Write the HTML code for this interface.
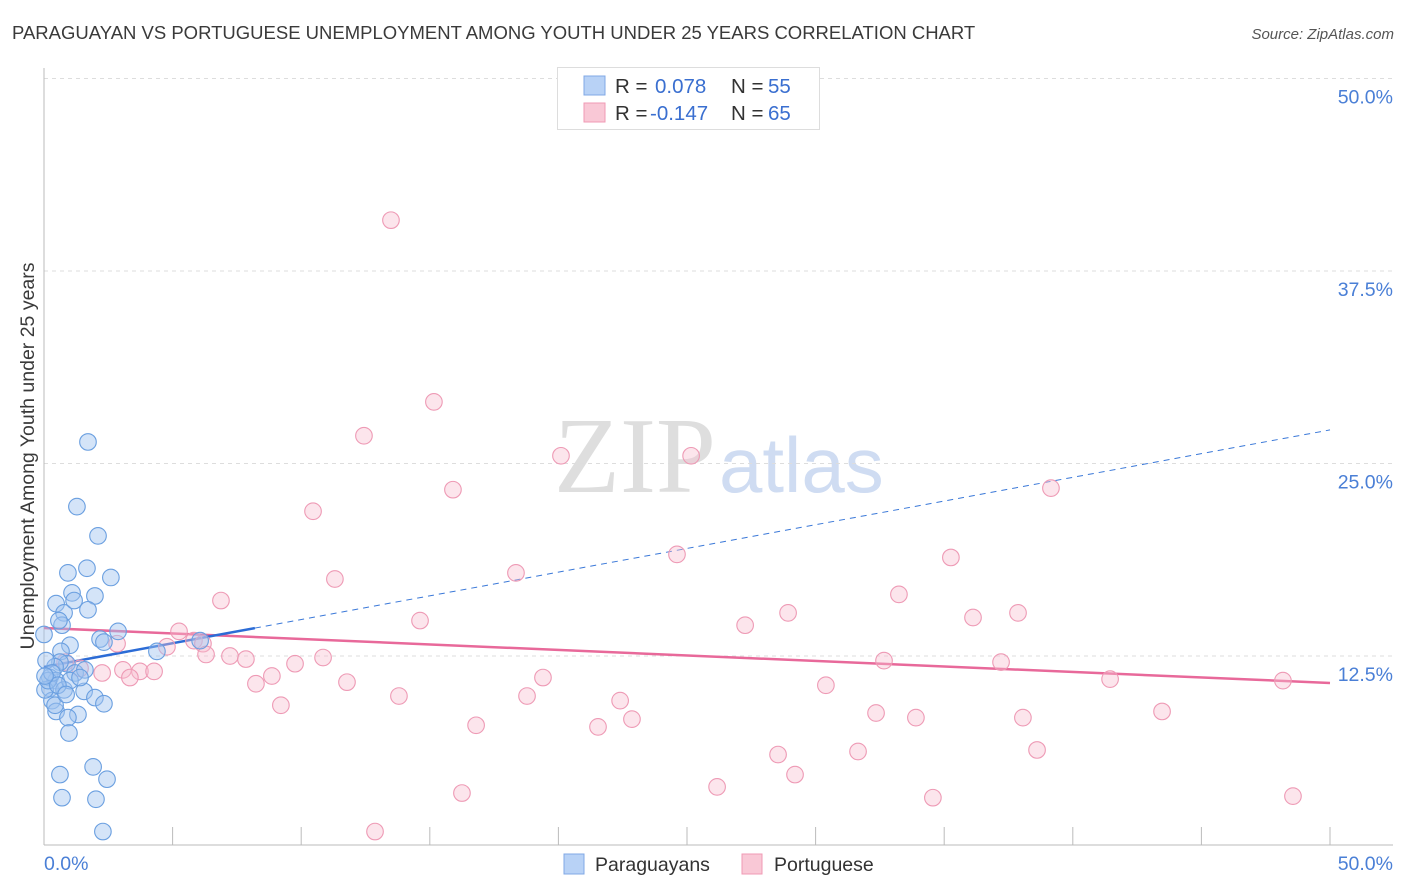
<!DOCTYPE html>
<html><head><meta charset="utf-8"><style>
body{margin:0;background:#fff;width:1406px;height:892px;overflow:hidden;font-family:"Liberation Sans",sans-serif}
svg{display:block}
</style></head><body>
<svg id="chart" width="1406" height="892" xmlns="http://www.w3.org/2000/svg">
<text x="12" y="39" font-size="18.5" fill="#3a3a3a">PARAGUAYAN VS PORTUGUESE UNEMPLOYMENT AMONG YOUTH UNDER 25 YEARS CORRELATION CHART</text>
<text x="1394" y="39" font-size="15" fill="#555" font-style="italic" text-anchor="end">Source: ZipAtlas.com</text>
<text x="716" y="492" font-size="108" font-family="Liberation Serif,serif" fill="#dedede" text-anchor="end">ZIP</text>
<text x="719" y="492" font-size="78" fill="#cfdcf2">atlas</text>
<g id="grid"></g>
<g id="axes"></g>
<g id="lines"></g>
<g id="pts"></g>
<text transform="translate(34,456) rotate(-90)" font-size="19.5" fill="#3a3a3a" text-anchor="middle">Unemployment Among Youth under 25 years</text>
<g>
<rect x="557.5" y="67.5" width="262" height="62" fill="#fff" stroke="#ddd"/>
<rect x="584" y="76" width="21" height="19" fill="#b8d2f6" stroke="#80a8e6"/>
<rect x="584" y="103" width="21" height="19" fill="#f9c8d6" stroke="#f09ab4"/>
<text x="615" y="93" font-size="20.5" fill="#333">R = </text><text x="655" y="93" font-size="20.5" fill="#3a6fd0">0.078</text>
<text x="731" y="93" font-size="20.5" fill="#333">N = </text><text x="768" y="93" font-size="20.5" fill="#3a6fd0">55</text>
<text x="615" y="120" font-size="20.5" fill="#333">R = </text><text x="650" y="120" font-size="20.5" fill="#3a6fd0">-0.147</text>
<text x="731" y="120" font-size="20.5" fill="#333">N = </text><text x="768" y="120" font-size="20.5" fill="#3a6fd0">65</text>
</g>
<g>
<rect x="564" y="854" width="20" height="20" fill="#b8d2f6" stroke="#80a8e6"/>
<text x="595" y="871" font-size="19.5" fill="#333">Paraguayans</text>
<rect x="742" y="854" width="20" height="20" fill="#f9c8d6" stroke="#f09ab4"/>
<text x="774" y="871" font-size="19.5" fill="#333">Portuguese</text>
</g>
</svg>
<script>
const yTicks=[12.5,25.0,37.5,50.0];
const yTickLabels=["12.5%","25.0%","37.5%","50.0%"];
const xTicks=[0,5,10,15,20,25,30,35,40,45,50];
const blueX=[1.71,1.28,2.10,0.93,1.67,2.60,0.47,1.09,1.98,0.78,1.71,1.17,0.70,0.58,2.88,2.18,2.33,1.01,0,0.66,4.39,6.07,0.89,0.62,0.43,0.08,0.23,0.47,1.21,1.59,0.23,0.78,1.01,0.31,1.56,1.98,2.33,0.47,1.32,0.93,0.43,0.04,0.97,0.62,0.70,1.91,2.45,2.02,2.29,0.16,0.31,0.54,0.86,1.40,0.04];
const blueY=[26.4,22.2,20.3,17.9,18.2,17.6,15.9,16.6,16.4,15.3,15.5,16.1,14.5,14.8,14.1,13.6,13.4,13.2,13.9,12.8,12.8,13.5,12.0,12.1,11.8,12.2,11.1,10.9,11.4,11.6,10.4,10.3,10.9,9.6,10.2,9.8,9.4,8.9,8.7,8.5,9.3,10.3,7.5,4.8,3.3,5.3,4.5,3.2,1.1,10.9,11.4,10.6,10.0,11.1,11.2];
const pinkX=[13.49,15.16,12.44,20.10,25.16,15.90,39.15,10.46,24.61,35.26,18.35,11.31,6.88,33.24,28.93,37.87,14.62,36.12,27.26,5.25,2.84,5.83,4.78,6.18,6.30,7.23,7.85,10.85,9.76,32.66,37.21,3.07,3.73,4.28,3.34,2.26,8.86,11.78,19.40,8.24,30.40,41.45,48.17,13.80,18.78,22.40,9.21,32.35,43.47,22.86,33.90,38.06,16.80,21.54,38.61,31.65,28.54,29.20,26.17,16.25,34.56,48.56,12.87,0.82,1.40];
const pinkY=[40.8,29.0,26.8,25.5,25.5,23.3,23.4,21.9,19.1,18.9,17.9,17.5,16.1,16.5,15.3,15.3,14.8,15.0,14.5,14.1,13.3,13.5,13.1,13.3,12.6,12.5,12.3,12.4,12.0,12.2,12.1,11.6,11.5,11.5,11.1,11.4,11.2,10.8,11.1,10.7,10.6,11.0,10.9,9.9,9.9,9.6,9.3,8.8,8.9,8.4,8.5,8.5,8.0,7.9,6.4,6.3,6.1,4.8,4.0,3.6,3.3,3.4,1.1,12.1,11.7];
const blueTrend=[11.79,27.18];
const blueSolidEnd=8.2;
const pinkTrend=[14.32,10.75];
const NS="http://www.w3.org/2000/svg";
const sx=v=>44+v*25.72, sy=v=>848.5-v*15.4;
function mk(tag,attrs,parent){const e=document.createElementNS(NS,tag);for(const k in attrs)e.setAttribute(k,attrs[k]);document.getElementById(parent).appendChild(e);return e;}
yTicks.forEach((t,i)=>{
 const g=mk('line',{x1:44,x2:1393,y1:sy(t),y2:sy(t),stroke:'#ddd','stroke-dasharray':'4,4'},'grid');
 
 
 const l=mk('text',{x:1393,y:sy(t)+25,'font-size':19.5,fill:'#4a7fd6','text-anchor':'end'},'grid');
 l.textContent=yTickLabels[i];
 
 
});
const ya=mk('line',{x1:44,x2:44,y1:68,y2:845,stroke:'#bbb'},'axes');


const xa=mk('line',{x1:44,x2:1393,y1:845,y2:845,stroke:'#bbb'},'axes');


xTicks.forEach(t=>{const tk=mk('line',{x1:sx(t),x2:sx(t),y1:827,y2:845,stroke:'#bbb'},'axes');
 
 });
const x0=mk('text',{x:44,y:870,'font-size':19.5,fill:'#4a7fd6'},'axes');x0.textContent='0.0%';


const x1=mk('text',{x:1393,y:870,'font-size':19.5,fill:'#4a7fd6','text-anchor':'end'},'axes');x1.textContent='50.0%';


pinkX.forEach((v,i)=>{const c=mk('circle',{cx:sx(v),cy:sy(pinkY[i]),r:8.3,fill:'rgba(248,190,208,0.4)',stroke:'#ee9ab5','stroke-width':1.1},'pts');
 
 });
blueX.forEach((v,i)=>{const c=mk('circle',{cx:sx(v),cy:sy(blueY[i]),r:8.3,fill:'rgba(160,196,240,0.45)',stroke:'#6a9fe0','stroke-width':1.1},'pts');
 
 });
const bAt=x=>blueTrend[0]+(blueTrend[1]-blueTrend[0])*x/50;
const pl=mk('line',{x1:sx(0),y1:sy(pinkTrend[0]),x2:sx(50),y2:sy(pinkTrend[1]),stroke:'#e8699a','stroke-width':2.5},'lines');


const bd=mk('line',{x1:sx(blueSolidEnd),y1:sy(bAt(blueSolidEnd)),x2:sx(50),y2:sy(bAt(50)),stroke:'#3a78d8','stroke-width':1,'stroke-dasharray':'6,5'},'lines');


const bs=mk('line',{x1:sx(0),y1:sy(bAt(0)),x2:sx(blueSolidEnd),y2:sy(bAt(blueSolidEnd)),stroke:'#2c6cd6','stroke-width':2.5},'lines');


</script>
</body></html>
